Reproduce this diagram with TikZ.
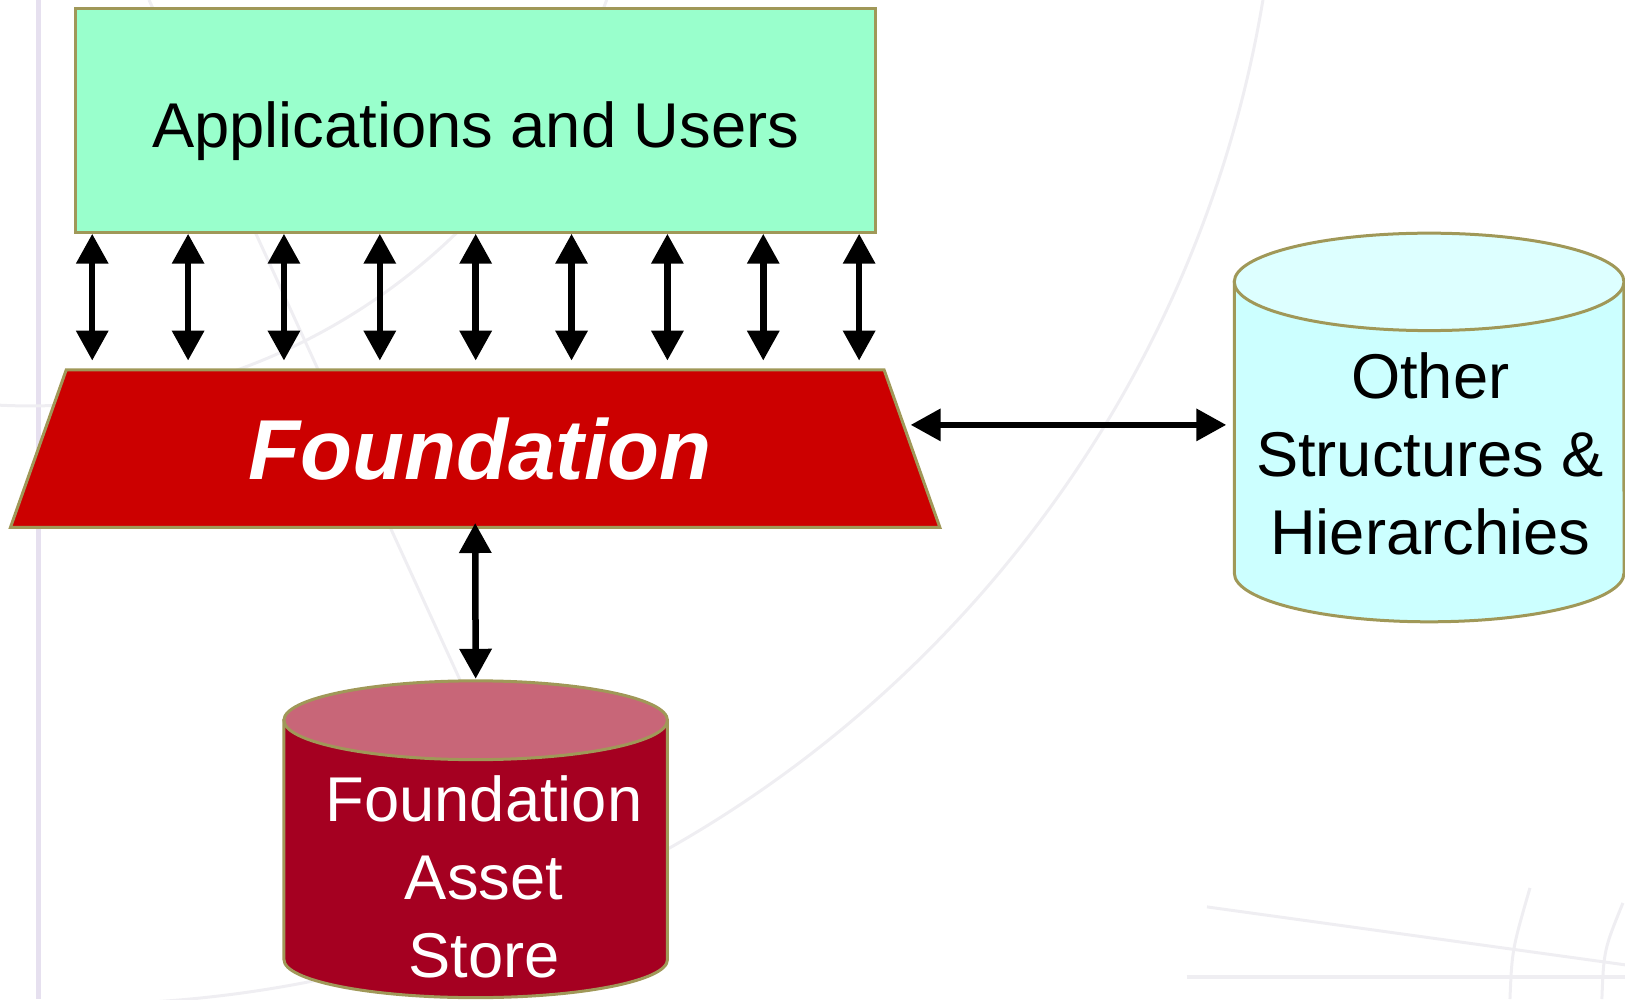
\documentclass[tikz,border=0pt]{standalone}
\usepackage{fontspec}
\setmainfont{Liberation Sans}
\usepackage{tikz}
\usetikzlibrary{arrows.meta,shapes.geometric}

\definecolor{mint}{HTML}{99FFCC}
\definecolor{rimgold}{HTML}{A09858}
\definecolor{foundred}{HTML}{CC0000}
\definecolor{skycyan}{HTML}{CCFFFF}
\definecolor{skytop}{HTML}{DDFFFF}
\definecolor{storered}{HTML}{A50021}
\definecolor{storepink}{HTML}{C86678}
\definecolor{bgline}{HTML}{EFEEF2}
\definecolor{bglilac}{HTML}{E6E0EF}

\begin{document}
\begin{tikzpicture}[x=0.010364cm, y=0.010364cm,
    dbl/.style={{Triangle[width=3.1mm,length=3mm]}-{Triangle[width=3.1mm,length=3mm]}, line width=0.65mm},
    rim/.style={draw=rimgold, line width=0.3mm},
    bodytext/.style={font=\fontsize{18pt}{22.1pt}\selectfont, align=center}]
    \useasboundingbox (0,35) rectangle (1568,999);
    % faint background lines
    \begin{scope}
        \clip (0,35) rectangle (1568,999);
        \draw[bglilac, line width=0.5mm] (36.7,35) -- (36.7,999);
        \draw[bgline, line width=0.3mm] (73.3,1191) circle (12.03cm);
        \draw[bgline, line width=0.3mm] (29,1198) circle (6.12cm);
        \draw[bgline, line width=0.3mm] (143.8,999) -- (443.8,343);
        \draw[bgline, line width=0.4mm] (1145,56.3) -- (1568,56.3);
        \draw[bgline, line width=0.3mm] (1164.6,123.9) -- (1568,68);
        \draw[bgline, line width=0.3mm] (1476.3,142.2) .. controls (1459,82.4) .. (1457,35);
        \draw[bgline, line width=0.3mm] (1566,127.7) .. controls (1547.6,82.4) .. (1545.7,35);
    \end{scope}

    \node[rim, fill=mint, minimum width=8.0cm, minimum height=2.24cm, bodytext,
        text height=5.4mm, text depth=0pt] (apps) at (459,883) {Applications and Users};
    \node[trapezium, trapezium stretches=true, trapezium angle=68.5, minimum width=9.3cm,
        minimum height=1.575cm, rim, fill=foundred, text=white,
        font=\fontsize{24.2pt}{29pt}\selectfont\bfseries\itshape] (found) at (458.5,566) {\hspace*{1mm}Foundation};
    \foreach \x in {89,181.5,274,366.5,459,551.5,644,736.5,829}
        \draw[dbl, shorten >=0.78mm] (\x,0 |- apps.south) -- (\x,0 |- found.north);

    % other structures
    \path[rim, fill=skycyan] (1191,727) -- (1191,446) arc[start angle=180, end angle=360, x radius=1.948cm, y radius=0.487cm] -- (1567,727) -- cycle;
    \draw[rim, fill=skytop] (1379,727) ellipse [x radius=1.948cm, y radius=0.487cm];
    \node[bodytext] (other) at (1380,561) {Other\\Structures \&\\Hierarchies};
    \coordinate (otherport) at (1191,589);
    \draw[dbl, shorten >=0.8mm, shorten <=-0.3mm] (found.east |- otherport) -- (otherport);

    % asset store
    \path[rim, fill=storered] (274,304) -- (274,73) arc[start angle=180, end angle=360, x radius=1.917cm, y radius=0.38cm] -- (644,304) -- cycle;
    \draw[rim, fill=storepink] (459,304) ellipse [x radius=1.917cm, y radius=0.394cm];
    \node[bodytext, text=white] (store) at (467,153) {Foundation\\Asset\\Store};
    \coordinate (storeport) at (459,344);
    \draw[dbl, shorten <=-0.6mm] (found.south) -- (storeport);
\end{tikzpicture}
\end{document}
